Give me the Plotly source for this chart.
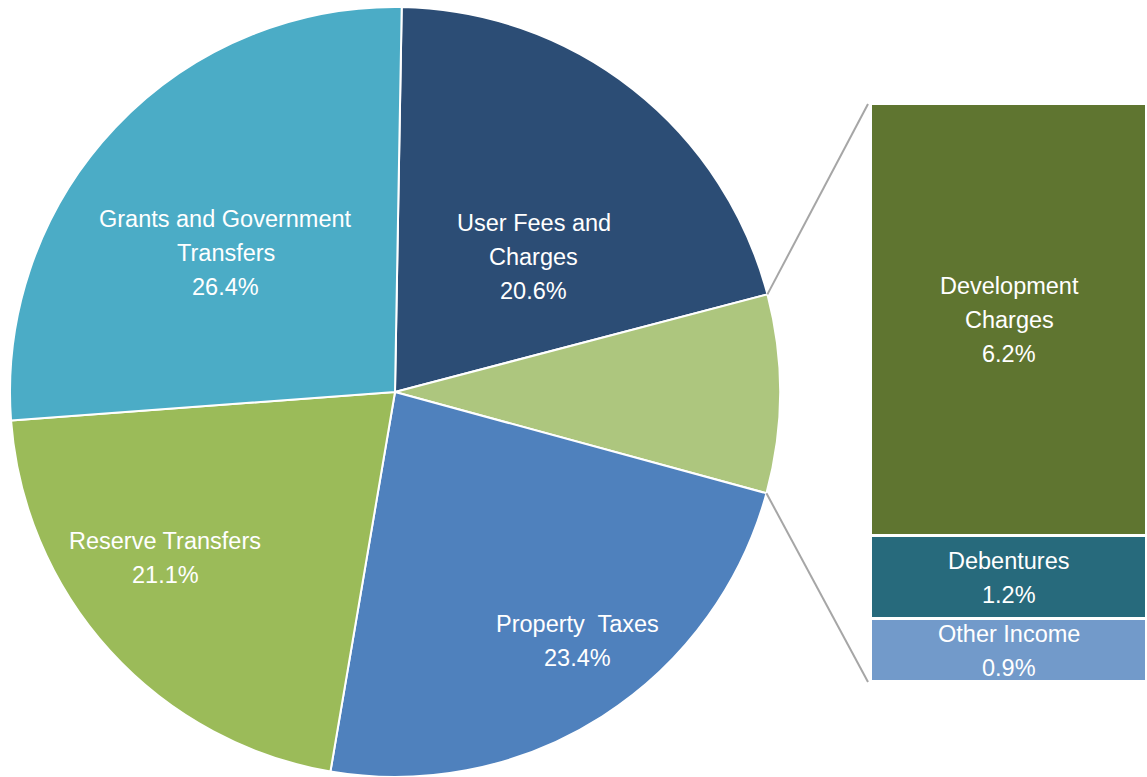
import math
import plotly.graph_objects as go

# Revenue sources (percent of total)
pie_labels = ["User Fees and<br>Charges", "Other", "Property  Taxes",
              "Reserve Transfers", "Grants and Government<br>Transfers"]
pie_main_values = [20.6, None, 23.4, 21.1, 26.4]

# Breakdown of the "Other" slice
bar_labels = ["Development<br>Charges", "Debentures", "Other Income"]
bar_values = [6.2, 1.2, 0.9]

other_total = round(sum(bar_values), 1)
pie_values = [v if v is not None else other_total for v in pie_main_values]

pie_colors = ["#2C4D75", "#ADC67E", "#4F81BD", "#9BBB59", "#4BACC6"]
bar_colors = ["#5F7530", "#276A7C", "#729ACA"]

W, H = 1147, 777
M_TOP = 7
PLOT_H = H - M_TOP
FONT = "Liberation Sans, Arial, sans-serif"
FS = 23.5
LINE_PX = 34
ROTATION = 1.0

pie_dom_x = [10 / W, 780 / W]
pie_dom_y = [0.0, 1.0]

bar_dom_x = [871 / W, 1.0]
bar_dom_y = [(H - 682) / PLOT_H, (H - 104) / PLOT_H]

# label placement inside the pie, as fractions of the radius (right, down)
label_offsets = {
    "User Fees and<br>Charges": (0.36, -0.35),
    "Property  Taxes": (0.475, 0.647),
    "Reserve Transfers": (-0.597, 0.431),
    "Grants and Government<br>Transfers": (-0.44, -0.36),
}

fig = go.Figure()

fig.add_trace(go.Pie(
    values=pie_values,
    labels=[l.replace("<br>", " ") for l in pie_labels],
    textinfo="none",
    marker=dict(colors=pie_colors, line=dict(color="white", width=2)),
    sort=False,
    direction="clockwise",
    rotation=ROTATION,
    domain=dict(x=pie_dom_x, y=pie_dom_y),
    hoverinfo="skip",
    showlegend=False,
))

# stacked breakdown bar: bottom to top
for lab, val, col in reversed(list(zip(bar_labels, bar_values, bar_colors))):
    fig.add_trace(go.Bar(
        x=[0], y=[val],
        marker=dict(color=col, line=dict(color="white", width=3)),
        width=1,
        hoverinfo="skip",
        showlegend=False,
    ))

# pie geometry in pixels
pw = (pie_dom_x[1] - pie_dom_x[0]) * W
ph = (pie_dom_y[1] - pie_dom_y[0]) * PLOT_H
r_px = min(pw, ph) / 2
cx_px = (pie_dom_x[0] + pie_dom_x[1]) / 2 * W
cy_px = M_TOP + (1 - (pie_dom_y[0] + pie_dom_y[1]) / 2) * PLOT_H


def to_paper(px, py):
    return px / W, (H - py) / PLOT_H


def add_multiline(text, x, y, xref, yref):
    lines = text.split("<br>")
    n = len(lines)
    for i, line in enumerate(lines):
        fig.add_annotation(
            x=x, y=y, xref=xref, yref=yref, text=line, showarrow=False,
            xanchor="center", yanchor="middle",
            yshift=((n - 1) / 2 - i) * LINE_PX,
            font=dict(family=FONT, size=FS, color="white"),
        )


# pie labels
for lab, val in zip(pie_labels, pie_values):
    if lab not in label_offsets:
        continue
    fx, fy = label_offsets[lab]
    px, py = to_paper(cx_px + fx * r_px, cy_px + fy * r_px)
    add_multiline(f"{lab}<br>{val:.1f}%", px, py, "paper", "paper")

# bar labels at the middle of each stacked segment
base = 0.0
for lab, val in reversed(list(zip(bar_labels, bar_values))):
    add_multiline(f"{lab}<br>{val:.1f}%", 0, base + val / 2, "x", "y")
    base += val

# connector lines from the "Other" slice edges to the bar corners
total = sum(pie_values)
idx = pie_labels.index("Other")
a_start = ROTATION + 360 * sum(pie_values[:idx]) / total
a_end = ROTATION + 360 * sum(pie_values[:idx + 1]) / total


def rim(angle):
    a = math.radians(angle)
    return cx_px + r_px * math.sin(a), cy_px - r_px * math.cos(a)


gap_px = 3
bar_left_px = bar_dom_x[0] * W - gap_px
bar_top_py = H - bar_dom_y[1] * PLOT_H
bar_bot_py = H - bar_dom_y[0] * PLOT_H

for ang, by in [(a_start, bar_top_py), (a_end, bar_bot_py)]:
    x0, y0 = to_paper(*rim(ang))
    x1, y1 = to_paper(bar_left_px, by)
    fig.add_shape(type="line", xref="paper", yref="paper",
                  x0=x0, y0=y0, x1=x1, y1=y1,
                  line=dict(color="#A6A6A6", width=2))

fig.update_layout(
    width=W, height=H,
    margin=dict(l=0, r=0, t=M_TOP, b=0),
    paper_bgcolor="white", plot_bgcolor="white",
    barmode="stack", bargap=0,
    xaxis=dict(domain=bar_dom_x, visible=False, range=[-0.5, 0.5], fixedrange=True),
    yaxis=dict(domain=bar_dom_y, visible=False, range=[0, other_total], fixedrange=True),
    showlegend=False,
)

fig.write_html("out.html")
